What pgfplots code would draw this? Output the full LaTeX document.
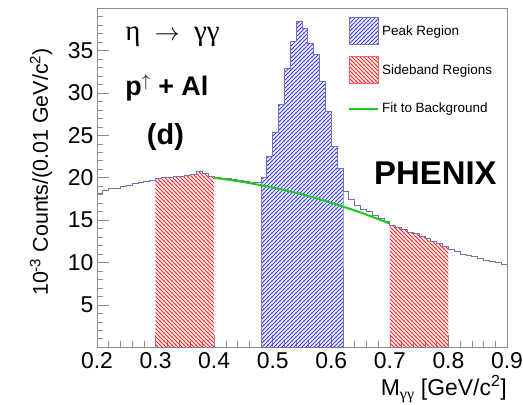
\documentclass[border=0pt]{standalone}
\usepackage{pgfplots}
\pgfplotsset{compat=1.18}
\usepackage{pgfplotstable}
\usepackage{fontspec}
\setmainfont{Liberation Sans}
\newfontfamily\serifgreek{Liberation Serif}
\usetikzlibrary{patterns}

\definecolor{histline}{rgb}{0.45,0.45,0.70}
\definecolor{peakblue}{rgb}{0.22,0.22,0.95}
\definecolor{sidered}{rgb}{1.00,0.12,0.12}
\definecolor{fitgreen}{rgb}{0.10,0.80,0.10}

% hatch patterns, 4bp period
\pgfdeclarepatternformonly{hatchne}{\pgfqpoint{-1bp}{-1bp}}{\pgfqpoint{5bp}{5bp}}{\pgfqpoint{4bp}{4bp}}{%
  \pgfsetlinewidth{0.8bp}%
  \pgfpathmoveto{\pgfqpoint{-0.5bp}{-0.5bp}}\pgfpathlineto{\pgfqpoint{4.5bp}{4.5bp}}\pgfusepath{stroke}}
\pgfdeclarepatternformonly{hatchnw}{\pgfqpoint{-1bp}{-1bp}}{\pgfqpoint{5bp}{5bp}}{\pgfqpoint{4bp}{4bp}}{%
  \pgfsetlinewidth{0.9bp}%
  \pgfpathmoveto{\pgfqpoint{-0.5bp}{4.5bp}}\pgfpathlineto{\pgfqpoint{4.5bp}{-0.5bp}}\pgfusepath{stroke}}

% M_gg histogram, left bin edges (0.01 GeV/c^2 bins), last row closes the range
\pgfplotstableread{
x y
0.20 18.2
0.21 18.5
0.22 18.7
0.23 18.8
0.24 19.0
0.25 19.1
0.26 19.3
0.27 19.5
0.28 19.6
0.29 19.7
0.30 19.9
0.31 20.0
0.32 20.0
0.33 20.2
0.34 20.2
0.35 20.3
0.36 20.4
0.37 20.7
0.38 20.5
0.39 20.2
0.40 20.0
0.41 19.9
0.42 19.9
0.43 19.8
0.44 19.7
0.45 19.6
0.46 19.5
0.47 19.4
0.48 20.0
0.49 22.5
0.50 25.3
0.51 28.7
0.52 32.9
0.53 36.1
0.54 38.5
0.55 37.6
0.56 35.9
0.57 34.6
0.58 31.4
0.59 27.8
0.60 23.7
0.61 21.1
0.62 18.4
0.63 17.4
0.64 16.8
0.65 16.3
0.66 16.0
0.67 15.6
0.68 15.2
0.69 14.9
0.70 14.4
0.71 14.1
0.72 13.9
0.73 13.6
0.74 13.4
0.75 13.1
0.76 12.8
0.77 12.5
0.78 12.3
0.79 11.9
0.80 11.5
0.81 11.3
0.82 11.0
0.83 10.9
0.84 10.7
0.85 10.5
0.86 10.3
0.87 10.1
0.88 10.0
0.89 9.8
0.90 9.8
}\hist

\tikzset{
  peakhatch/.style={pattern=hatchne, pattern color=peakblue},
  sidehatch/.style={pattern=hatchnw, pattern color=sidered},
}

\begin{document}
\begin{tikzpicture}
\begin{axis}[
  scale only axis, width=410bp, height=339bp,
  xmin=0.2, xmax=0.9, ymin=0, ymax=40,
  xtick={0.2,0.3,0.4,0.5,0.6,0.7,0.8,0.9},
  minor xtick={0.22,0.24,0.26,0.28,0.32,0.34,0.36,0.38,0.42,0.44,0.46,0.48,0.52,0.54,0.56,0.58,0.62,0.64,0.66,0.68,0.72,0.74,0.76,0.78,0.82,0.84,0.86,0.88},
  ytick={5,10,15,20,25,30,35},
  minor ytick={1,2,3,4,6,7,8,9,11,12,13,14,16,17,18,19,21,22,23,24,26,27,28,29,31,32,33,34,36,37,38,39},
  tick align=inside, tick pos=left,
  major tick length=12bp, minor tick length=6bp,
  tick style={color=black!45, line width=0.7bp},
  axis line style={color=black!45, line width=0.8bp},
  ticklabel style={font=\fontsize{23}{26}\selectfont},
  xticklabel style={yshift=-2bp},
  /pgf/number format/assume math mode=true,
  xticklabel style={/pgf/number format/fixed, /pgf/number format/precision=1, /pgf/number format/fixed zerofill},
  legend style={at={(rel axis cs:0.612,0.975)}, anchor=north west, draw=none, fill=none,
    font=\fontsize{13.5}{16}\selectfont, row sep=11bp, inner sep=0pt,
    nodes={inner xsep=3bp}},
  legend cell align=left,
  clip=false,
]
% hatched regions
\addplot[forget plot, const plot, draw=none, sidehatch, restrict x to domain=0.295:0.405] table {\hist} \closedcycle;
\addplot[forget plot, const plot, draw=none, peakhatch, restrict x to domain=0.475:0.625] table {\hist} \closedcycle;
\addplot[forget plot, const plot, draw=none, sidehatch, restrict x to domain=0.695:0.805] table {\hist} \closedcycle;
% peak region border
\addplot[forget plot, const plot, histline, line width=0.8bp, restrict x to domain=0.475:0.625] table {\hist} \closedcycle;
% full histogram outline
\addplot[forget plot, const plot, histline, line width=0.8bp] table {\hist};
% background fit
\addplot[forget plot, smooth, fitgreen, line width=2bp] coordinates {
  (0.40,20.0) (0.45,19.5) (0.50,18.85) (0.55,18.05) (0.60,17.05) (0.65,15.9) (0.70,14.6)};

\addlegendimage{legend image code/.code={\draw[peakhatch, draw=histline, line width=0.8bp] (0bp,-13bp) rectangle (29bp,14bp);}}
\addlegendentry{Peak Region}
\addlegendimage{legend image code/.code={\draw[sidehatch, draw=sidered!70, line width=0.8bp] (0bp,-13bp) rectangle (29bp,14bp);}}
\addlegendentry{Sideband Regions}
\addlegendimage{legend image code/.code={\path[draw=none, fill=none] (0bp,-13bp) rectangle (29bp,14bp); \draw[fitgreen, line width=2bp] (0bp,0bp) -- (29bp,0bp);}}
\addlegendentry{Fit to Background}

\node[anchor=west, inner sep=0pt, font=\fontsize{29}{32}\selectfont] at (axis cs:0.248,36.6) {\serifgreek η\hspace{0.5em}$\rightarrow$\hspace{0.5em}γγ};
\node[anchor=west, inner sep=0pt, font=\bfseries\fontsize{27}{30}\selectfont] at (axis cs:0.248,30.6) {p$^{\uparrow}$ + Al};
\node[anchor=west, inner sep=0pt, font=\bfseries\fontsize{29}{32}\selectfont] at (axis cs:0.285,24.8) {(d)};
\node[anchor=east, inner sep=0pt, font=\bfseries\fontsize{33}{36}\selectfont] at (axis cs:0.8826,20.5) {PHENIX};

\node[rotate=90, font=\fontsize{21.5}{24}\selectfont] at ([xshift=-56bp]rel axis cs:0,0.517) {10\textsuperscript{-3} Counts/(0.01 GeV/c\textsuperscript{2})};
\node[anchor=base east, inner sep=0pt, font=\fontsize{23}{26}\selectfont] at ([yshift=-48bp]rel axis cs:1,0) {M\textsubscript{\serifgreek γγ} [GeV/c\textsuperscript{2}]};

\coordinate (SW) at (rel axis cs:0,0);
\end{axis}
\pgfresetboundingbox
\path (SW) ++(-97bp,-57.7bp) rectangle ++(523bp,405bp);
\end{tikzpicture}
\end{document}
